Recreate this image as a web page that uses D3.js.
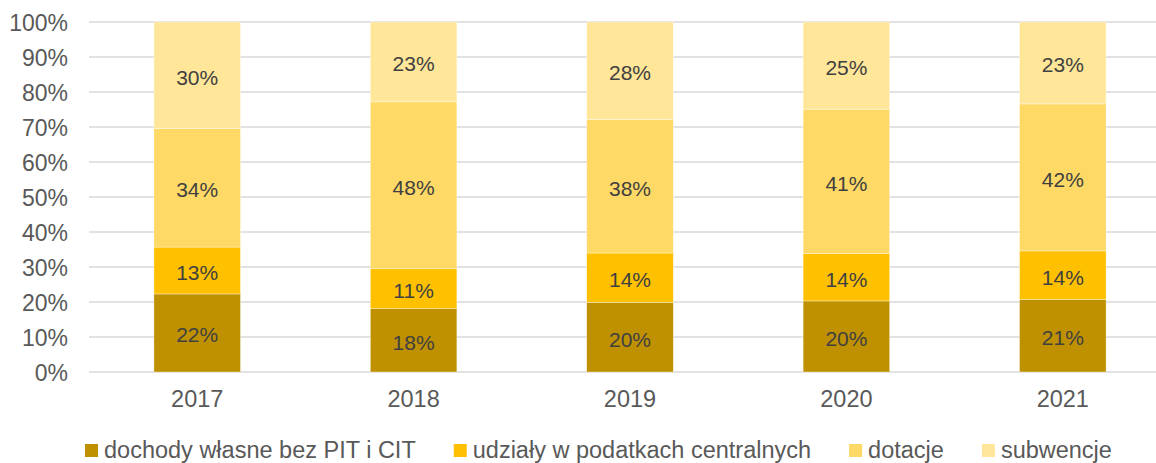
<!DOCTYPE html>
<html>
<head>
<meta charset="utf-8">
<script src="https://cdn.jsdelivr.net/npm/d3@7"></script>
<style>
  body { margin: 0; background: #fff; }
  svg { display: block; font-family: "Liberation Sans", Arial, sans-serif; }
</style>
</head>
<body>
<svg id="chart" width="1156" height="463"></svg>
<script>
// data (shares in %)
var years = ["2017", "2018", "2019", "2020", "2021"];
var seriesNames = ["dochody własne bez PIT i CIT", "udziały w podatkach centralnych", "dotacje", "subwencje"];
var dochody = [22.3, 18.1, 19.9, 20.3, 20.7];
var udzialy = [13.4, 11.4, 14.1, 13.6, 13.9];
var dotacje = [33.9, 47.7, 38.1, 41.2, 42.0];
var subwencje = [30.4, 22.8, 27.9, 24.9, 23.4];
var yTicks = [0, 10, 20, 30, 40, 50, 60, 70, 80, 90, 100];

var colors = ["#BF9000", "#FFC000", "#FFD966", "#FFE699"];

var svg = d3.select("#chart");
var rows = years.map(function(y, i){
  return { year: y, s0: dochody[i], s1: udzialy[i], s2: dotacje[i], s3: subwencje[i] };
});
var stack = d3.stack().keys(["s0", "s1", "s2", "s3"]);
var layers = stack(rows);

var x = d3.scaleBand().domain(years).range([89, 1171]).paddingInner(0.6).paddingOuter(0.3);
var y = d3.scaleLinear().domain([0, 100]).range([372, 22]);

// gridlines
svg.append("g").selectAll("line").data(yTicks).enter().append("line")
  .attr("x1", 89).attr("x2", 1156)
  .attr("y1", function(d){ return y(d); }).attr("y2", function(d){ return y(d); })
  .style("stroke", "#D9D9D9").style("stroke-width", 1.5);

// y axis labels
var yAxis = d3.axisLeft(y).tickValues(yTicks).tickSize(0).tickPadding(0)
  .tickFormat(function(d){ return d + "%"; });
var gy = svg.append("g").attr("transform", "translate(68,0)").call(yAxis);
gy.select(".domain").remove();
gy.selectAll("text").attr("dy", "0.35em").style("font-size", "23px").style("fill", "#595959")
  .style("font-family", "'Liberation Sans', Arial, sans-serif");

// x axis labels
var xAxis = d3.axisBottom(x).tickSize(0).tickPadding(0);
var gx = svg.append("g").attr("transform", "translate(0,407)").call(xAxis);
gx.select(".domain").remove();
gx.selectAll("text").attr("y", 0).attr("dy", 0).style("font-size", "23.5px").style("fill", "#595959")
  .style("font-family", "'Liberation Sans', Arial, sans-serif");

// bars
var gl = svg.append("g").selectAll("g").data(layers).enter().append("g")
  .style("fill", function(d, i){ return colors[i]; });
gl.selectAll("rect").data(function(d){ return d; }).enter().append("rect")
  .attr("x", function(d){ return x(d.data.year); })
  .attr("width", x.bandwidth())
  .attr("y", function(d){ return y(d[1]); })
  .attr("height", function(d){ return y(d[0]) - y(d[1]); })
  .style("stroke", "#fff").style("stroke-width", 0.6).style("stroke-opacity", 0.6);

// value labels
gl.selectAll("text").data(function(d){ return d; }).enter().append("text")
  .attr("x", function(d){ return x(d.data.year) + x.bandwidth()/2; })
  .attr("y", function(d){ return (y(d[0]) + y(d[1]))/2 + 2; })
  .attr("text-anchor", "middle").attr("dy", "0.35em")
  .style("font-size", "21px").style("fill", "#404040")
  .text(function(d){ return Math.round(d[1] - d[0]) + "%"; });

// legend (kept just inside the bottom edge)
var legend = svg.append("g").attr("transform", "translate(85,450)");
var lx = 0;
seriesNames.forEach(function(name, i){
  var item = legend.append("g").attr("transform", "translate(" + lx + ",0)");
  item.append("rect").attr("x", 0).attr("y", -6).attr("width", 13).attr("height", 13).style("fill", colors[i]);
  var t = item.append("text").attr("x", 19).attr("dy", "0.35em")
    .style("font-size", "23.5px").style("fill", "#595959").text(name);
  lx += 19 + t.node().getComputedTextLength() + 38;
});
</script>
</body>
</html>
